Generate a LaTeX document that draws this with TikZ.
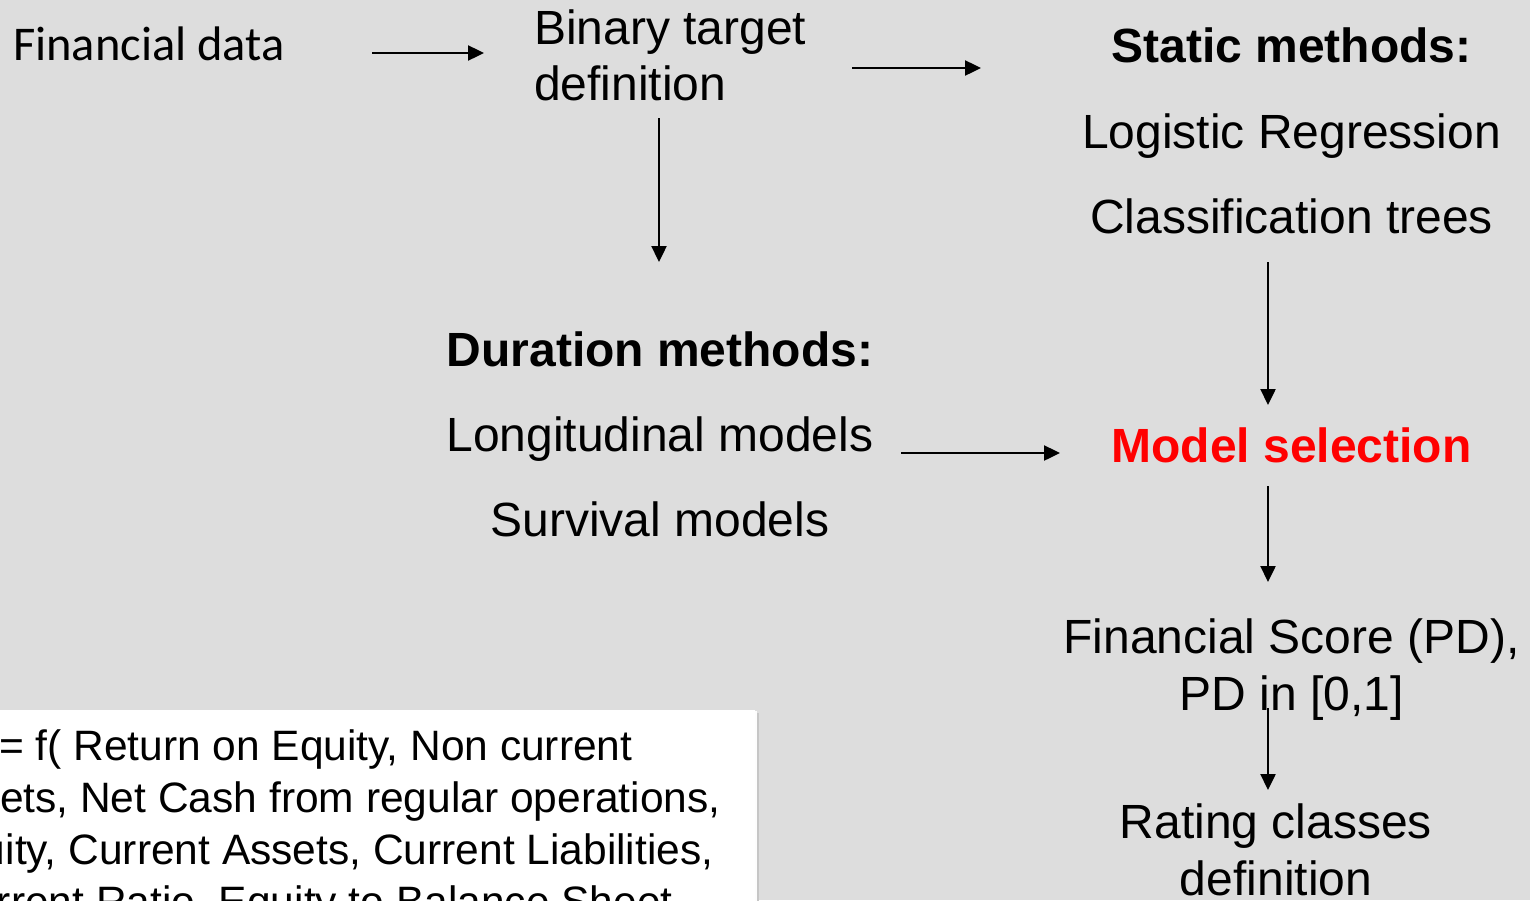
\documentclass[tikz,border=0pt]{standalone}
\usepackage{fontspec}
\setmainfont{Liberation Sans}
\newfontfamily\calibrilike{Carlito}
\usetikzlibrary{arrows.meta}
\definecolor{bggray}{HTML}{DDDDDD}
\definecolor{shadowgray}{HTML}{C6C6C6}
\definecolor{selred}{HTML}{FF0000}
\tikzset{
  txt/.style={inner sep=0pt, outer sep=0pt, font=\fontsize{48}{57}\selectfont},
  boldtxt/.style={txt, font=\bfseries\fontsize{48}{57}\selectfont},
  boxtxt/.style={inner sep=0pt, outer sep=0pt, anchor=base west, font=\fontsize{42.5}{52}\selectfont},
  flow/.style={line width=2.4pt, -{Triangle[length=16pt,width=15pt]}}
}
\begin{document}
\begin{tikzpicture}[x=1pt,y=-1pt]
  % canvas
  \fill[bggray] (0,0) rectangle (1530,900);
  \useasboundingbox (0,0) rectangle (1530,900);
  \clip (0,0) rectangle (1530,900);

  % first row (multi-line nodes are placed by the baseline of their last line)
  \node[txt, anchor=base west, font=\calibrilike\fontsize{48.5}{56}\selectfont] (fin) at (13,60) {Financial data};
  \node[txt, anchor=base west, align=left, font=\fontsize{48}{56}\selectfont] (bin) at (534,100.7) {Binary target\\definition};

  % static methods column
  \node[boldtxt, anchor=base] (stat) at (1291.5,62) {Static methods:};
  \node[txt, anchor=base] (logit) at (1291.5,148) {Logistic Regression};
  \node[txt, anchor=base] (tree) at (1291.5,233) {Classification trees};

  % duration methods column
  \node[boldtxt, anchor=base] (dur) at (660,366) {Duration methods:};
  \node[txt, anchor=base] (longi) at (660,451.7) {Longitudinal models};
  \node[txt, anchor=base] (surv) at (660,536.7) {Survival models};

  % selection and outputs
  \node[boldtxt, anchor=base, text=selred] (sel) at (1291.5,462) {Model selection};
  \node[txt, anchor=base, align=center] (score) at (1291.5,710) {Financial Score (PD),\\PD in [0,1]};
  \node[txt, anchor=base, align=center] (rating) at (1276,895) {Rating classes\\definition};

  % arrow end points
  \coordinate (a1s) at (372,53);   \coordinate (a1e) at (484,53);
  \coordinate (a2s) at (852,68);   \coordinate (a2e) at (981,68);
  \coordinate (a3s) at (659,118);  \coordinate (a3e) at (659,262);
  \coordinate (a4s) at (1268,262); \coordinate (a4e) at (1268,405);
  \coordinate (a5s) at (901,453);  \coordinate (a5e) at (1060,453);
  \coordinate (a6s) at (1268,486); \coordinate (a6e) at (1268,582);
  \coordinate (a7s) at (1268,708); \coordinate (a7e) at (1268,790);

  \draw[flow] (a1s) -- (a1e);
  \draw[flow] (a2s) -- (a2e);
  \draw[flow] (a3s) -- (a3e);
  \draw[flow] (a4s) -- (a4e);
  \draw[flow] (a5s) -- (a5e);
  \draw[flow] (a6s) -- (a6e);
  \draw[flow] (a7s) -- (a7e);

  % formula panel with drop shadow
  \fill[shadowgray] (-20,713) rectangle (759,920);
  \fill[white!93!bggray] (-20,711) rectangle (757,920);
  \fill[white] (-20,710) rectangle (755,920);
  \node[boxtxt] (f1) at (-1,760) {= f( Return on Equity, Non current};
  \node[boxtxt] (f2) at (0,812) {ets, Net Cash from regular operations,};
  \node[boxtxt] (f3) at (-18,864) {uity, Current Assets, Current Liabilities,};
  \node[boxtxt] (f4) at (-3,916) {rrent Ratio, Equity to Balance Sheet};
\end{tikzpicture}
\end{document}
